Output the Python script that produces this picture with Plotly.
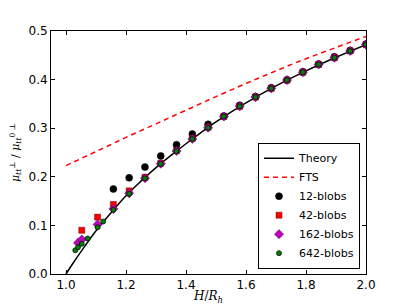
import plotly.graph_objects as go

# Theory curve
theory_x = [1.0, 1.02, 1.05, 1.1, 1.15, 1.2, 1.25, 1.3, 1.35, 1.4, 1.45, 1.5, 1.6, 1.7, 1.8, 1.9, 2.0]
theory_y = [0.0, 0.019, 0.046, 0.089, 0.126, 0.161, 0.191, 0.219, 0.244, 0.268, 0.291, 0.313, 0.352, 0.387, 0.418, 0.446, 0.472]

# FTS curve
fts_x = [1.0, 1.1, 1.2, 1.3, 1.4, 1.5, 1.6, 1.7, 1.8, 1.9, 2.0]
fts_y = [0.223, 0.252, 0.281, 0.309, 0.337, 0.365, 0.392, 0.418, 0.443, 0.466, 0.489]

# 12 blobs
b12_x = [1.1579, 1.2105, 1.2632, 1.3158, 1.3684, 1.4211, 1.4737, 1.5263, 1.5789, 1.6316, 1.6842,
         1.7368, 1.7895, 1.8421, 1.8947, 1.9474, 2.0]
b12_y = [0.175, 0.198, 0.220, 0.243, 0.266, 0.288, 0.308, 0.325, 0.347, 0.365, 0.383,
         0.399, 0.416, 0.432, 0.447, 0.460, 0.473]

# 42 blobs
b42_x = [1.0526, 1.1053, 1.1579, 1.2105, 1.2632, 1.3158, 1.3684, 1.4211, 1.4737, 1.5263, 1.5789,
         1.6316, 1.6842, 1.7368, 1.7895, 1.8421, 1.8947, 1.9474, 2.0]
b42_y = [0.090, 0.117, 0.143, 0.171, 0.199, 0.228, 0.254, 0.279, 0.302, 0.324, 0.345,
         0.364, 0.382, 0.399, 0.415, 0.431, 0.445, 0.459, 0.472]

# 162 blobs
b162_x = [1.040, 1.0526, 1.1053, 1.1579, 1.2105, 1.2632, 1.3158, 1.3684, 1.4211, 1.4737, 1.5263,
          1.5789, 1.6316, 1.6842, 1.7368, 1.7895, 1.8421, 1.8947, 1.9474, 2.0]
b162_y = [0.064, 0.071, 0.102, 0.134, 0.166, 0.197, 0.227, 0.253, 0.278, 0.301, 0.324,
          0.345, 0.364, 0.382, 0.399, 0.415, 0.431, 0.445, 0.459, 0.472]

# 642 blobs
b642_x = [1.031, 1.040, 1.0526, 1.072, 1.1053, 1.124, 1.1579, 1.2105, 1.2632, 1.3158, 1.3684,
          1.4211, 1.4737, 1.5263, 1.5789, 1.6316, 1.6842, 1.7368, 1.7895, 1.8421, 1.8947, 1.9474, 2.0]
b642_y = [0.049, 0.055, 0.062, 0.073, 0.096, 0.108, 0.132, 0.165, 0.197, 0.227, 0.253,
          0.278, 0.301, 0.324, 0.345, 0.364, 0.382, 0.399, 0.415, 0.431, 0.445, 0.459, 0.472]

x_ticks = [1.0, 1.2, 1.4, 1.6, 1.8, 2.0]
y_ticks = [0.0, 0.1, 0.2, 0.3, 0.4, 0.5]

FONT = "DejaVu Sans"

fig = go.Figure()
fig.add_trace(go.Scatter(x=theory_x, y=theory_y, mode="lines", name="Theory",
                         line=dict(color="black", width=1.5, shape="spline")))
fig.add_trace(go.Scatter(x=fts_x, y=fts_y, mode="lines", name="FTS",
                         line=dict(color="#ff0000", width=1.5, dash="5px,4px", shape="spline")))
fig.add_trace(go.Scatter(x=b12_x, y=b12_y, mode="markers", name="12-blobs",
                         marker=dict(symbol="circle", size=7, color="black",
                                     line=dict(color="black", width=0.5))))
fig.add_trace(go.Scatter(x=b42_x, y=b42_y, mode="markers", name="42-blobs",
                         marker=dict(symbol="square", size=6, color="#ff0000",
                                     line=dict(color="#600000", width=0.5))))
fig.add_trace(go.Scatter(x=b162_x, y=b162_y, mode="markers", name="162-blobs",
                         marker=dict(symbol="diamond", size=7, color="#bf00bf",
                                     line=dict(color="#400040", width=0.5))))
fig.add_trace(go.Scatter(x=b642_x, y=b642_y, mode="markers", name="642-blobs",
                         marker=dict(symbol="circle", size=5, color="#008000",
                                     line=dict(color="black", width=0.7))))

axis_common = dict(showline=True, linecolor="black", linewidth=1, mirror="ticks",
                   ticks="inside", ticklen=4, tickwidth=1, tickcolor="black",
                   showgrid=False, zeroline=False,
                   tickfont=dict(family=FONT, size=12, color="black"))

fig.update_xaxes(range=[0.95, 2.0], tickvals=x_ticks, ticktext=[f"{v:.1f}" for v in x_ticks],
                 title=dict(text="<i>H</i>/<i>R</i><sub><i>h</i></sub>",
                            font=dict(family="DejaVu Serif", size=12, color="black"), standoff=2),
                 **axis_common)
fig.update_yaxes(range=[0, 0.5], tickvals=y_ticks, ticktext=[f"{v:.1f}" for v in y_ticks],
                 title=dict(text="<i>μ</i><sub><i>tt</i></sub><sup>⊥</sup> / <i>μ</i><sub><i>tt</i></sub><sup>0 ⊥</sup>",
                            font=dict(family="DejaVu Serif", size=11, color="black"), standoff=6),
                 **axis_common)

fig.update_layout(
    width=407, height=305,
    margin=dict(l=51, r=41, t=31, b=31, autoexpand=False),
    paper_bgcolor="white", plot_bgcolor="white",
    font=dict(family=FONT, size=12, color="black"),
    legend=dict(x=0.981, y=0.022, xanchor="right", yanchor="bottom",
                bgcolor="white", bordercolor="black", borderwidth=1,
                font=dict(family=FONT, size=11, color="black"),
                tracegroupgap=0, itemwidth=30),
)

fig.write_html("out.html", config={"displayModeBar": False},
               post_script="document.body.style.margin='0';document.body.style.overflow='hidden';")
